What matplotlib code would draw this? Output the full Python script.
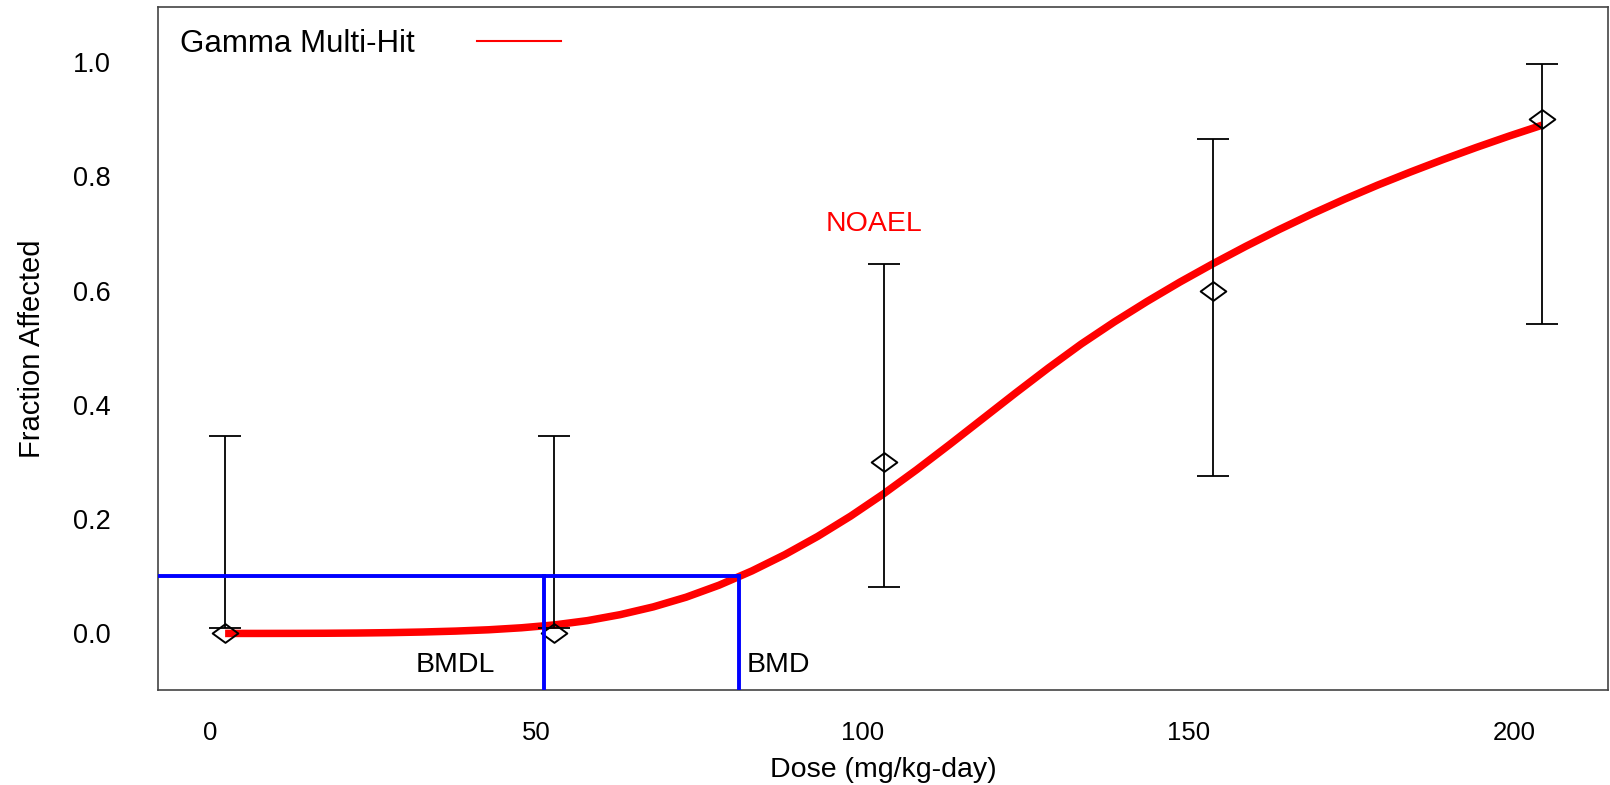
import numpy as np
import matplotlib
matplotlib.use("Agg")
import matplotlib.pyplot as plt
from matplotlib.lines import Line2D
from matplotlib.path import Path

plt.rcParams['font.family'] = ['Liberation Sans', 'DejaVu Sans']

# observed data (fraction affected with confidence limits)
dose = [0, 50, 100, 150, 200]
frac = [0.0, 0.0, 0.3, 0.6, 0.9]
ci_low = [0.009, 0.009, 0.081, 0.275, 0.542]
ci_high = [0.346, 0.346, 0.646, 0.865, 0.997]

# fitted Gamma Multi-Hit curve
curve_dose = [0, 5, 10, 15, 20, 25, 30, 35, 40, 45, 50, 55, 60, 65, 70, 75, 80,
              85, 90, 95, 100, 105, 110, 115, 120, 125, 130, 135, 140, 145, 150,
              155, 160, 165, 170, 175, 180, 185, 190, 195, 200]
curve_frac = [0.0000, 0.0000, 0.0001, 0.0003, 0.0007, 0.0014, 0.0025, 0.0041, 0.0064,
              0.0099, 0.0149, 0.0224, 0.0329, 0.0464, 0.0634, 0.0844, 0.1094, 0.1379,
              0.1699, 0.2054, 0.2444, 0.2864, 0.3304, 0.3754, 0.4204, 0.4644, 0.5064,
              0.5449, 0.5809, 0.6149, 0.6469, 0.6774, 0.7064, 0.7339, 0.7599, 0.7844,
              0.8074, 0.8294, 0.8504, 0.8704, 0.8894]

bmr = 0.1
bmd = 78.0
bmdl = 48.4
noael = 100

x_ticks = [0, 50, 100, 150, 200]
y_ticks = [0.0, 0.2, 0.4, 0.6, 0.8, 1.0]

fig = plt.figure(figsize=(16.1, 7.85), dpi=100)
ax = fig.add_axes([0.0981, 0.121, 0.9007, 0.870])

ax.plot(curve_dose, curve_frac, color='red', lw=5.4, solid_capstyle='butt',
        solid_joinstyle='round', zorder=2)

# confidence bars: the lower limit can sit above the point, so draw them by hand
ax.vlines(dose, ci_low, ci_high, color='black', lw=1.3, zorder=3)
ax.plot(dose, ci_low, ls='none', marker='_', ms=23, mew=1.3, color='black', zorder=3)
ax.plot(dose, ci_high, ls='none', marker='_', ms=23, mew=1.3, color='black', zorder=3)

# flattened open diamond like the original marker
diamond = Path([(-1, 0), (0, 0.73), (1, 0), (0, -0.73), (-1, 0)],
               [Path.MOVETO, Path.LINETO, Path.LINETO, Path.LINETO, Path.CLOSEPOLY])
ax.plot(dose, frac, ls='none', marker=diamond, ms=18.5, mfc='none',
        mec='black', mew=1.4, zorder=3)

# BMD / BMDL markers
ax.plot([-10.2, bmd], [bmr, bmr], color='blue', lw=2.8, zorder=4)
ax.plot([bmd, bmd], [-0.1, bmr], color='blue', lw=2.8, zorder=4)
ax.plot([bmdl, bmdl], [-0.1, bmr], color='blue', lw=2.8, zorder=4)
ax.annotate('BMDL', (bmdl, -0.055), xytext=(-35, 0), textcoords='offset points',
            ha='right', va='center', fontsize=20.5)
ax.annotate('BMD', (bmd, -0.055), xytext=(5.5, 0), textcoords='offset points',
            ha='left', va='center', fontsize=20.5)
ax.annotate('NOAEL', (noael, 0.716), xytext=(-7, 0), textcoords='offset points',
            ha='center', va='center', fontsize=20.5, color='red')

ax.set_xlim(-10.2, 210)
ax.set_ylim(-0.099, 1.096)

# tick labels sit a little left of the doses in the original render
ax.set_xticks([t * 0.99 - 2.2 for t in x_ticks])
ax.set_xticklabels([str(t) for t in x_ticks])
ax.set_yticks(y_ticks)
ax.set_yticklabels([f'{t:.1f}' for t in y_ticks])
ax.tick_params(axis='x', length=0, pad=22, labelsize=18.5)
ax.tick_params(axis='y', length=0, pad=34, labelsize=19.5)

ax.set_xlabel('Dose (mg/kg-day)', fontsize=20.5, labelpad=9)
ax.set_ylabel('Fraction Affected', fontsize=21, labelpad=19)

for s in ax.spines.values():
    s.set_color('#444444')
    s.set_linewidth(1.2)

handle = Line2D([], [], color='red', lw=1.5)
ax.legend([handle], ['Gamma Multi-Hit'], loc='upper left', bbox_to_anchor=(0.015, 0.968),
          frameon=False, markerfirst=False, fontsize=22.5, handlelength=2.7,
          handletextpad=2.0, borderpad=0, borderaxespad=0)

fig.savefig('out.png', dpi=100)
